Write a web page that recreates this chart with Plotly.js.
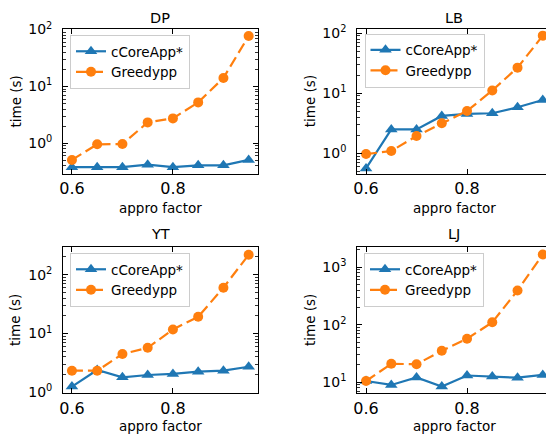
<!DOCTYPE html>
<html>
<head>
<meta charset="utf-8">
<script src="https://cdn.plot.ly/plotly-3.0.1.min.js"></script>
<style>html,body{margin:0;padding:0;background:#fff;overflow:hidden}</style>
</head>
<body>
<div id="chart" style="width:546px;height:439px"></div>
<script>
// ---- data ----
const factors = [0.6, 0.65, 0.7, 0.75, 0.8, 0.85, 0.9, 0.95];
const panelNames = ["DP", "LB", "YT", "LJ"];
const seriesNames = ["cCoreApp*", "Greedypp"];

const dpCore   = [0.38, 0.38, 0.38, 0.42, 0.38, 0.41, 0.41, 0.51];
const dpGreedy = [0.51, 0.96, 0.97, 2.33, 2.74, 5.24, 14.1, 77];

const lbCore   = [0.56, 2.5, 2.5, 4.19, 4.52, 4.64, 5.84, 7.7];
const lbGreedy = [0.97, 1.09, 1.94, 3.16, 5.07, 11.1, 26.7, 91];

const ytCore   = [1.25, 2.39, 1.80, 1.97, 2.05, 2.24, 2.33, 2.72];
const ytGreedy = [2.33, 2.33, 4.47, 5.71, 11.7, 19.2, 60, 218];

const ljCore   = [10.5, 8.98, 12.1, 8.4, 13.1, 12.6, 12.0, 13.4];
const ljGreedy = [10.5, 20.9, 20.6, 35.2, 57, 110, 392, 1660];

const xTickVals = [0.6, 0.8];
const xTickText = ["0.6", "0.8"];
const yTickVals = [0.1, 1, 10, 100, 1000, 10000];
const yTickText = ["10<sup>-1</sup>", "10<sup>0</sup>", "10<sup>1</sup>", "10<sup>2</sup>", "10<sup>3</sup>", "10<sup>4</sup>"];

// ---- layout helpers ----
const W = 546, H = 439;
const fx = p => p / W;
const fy = p => 1 - p / H;
const FONT = "DejaVu Sans, Verdana, sans-serif";
const BLUE = "#1f77b4", ORANGE = "#ff7f0e";

const minorVals = [];
for (let d = -2; d <= 4; d++) for (let k = 2; k <= 9; k++) minorVals.push(k * Math.pow(10, d));

const coreSets = [dpCore, lbCore, ytCore, ljCore];
const greedySets = [dpGreedy, lbGreedy, ytGreedy, ljGreedy];

const traces = [];
for (let i = 0; i < 4; i++) {
  const sfx = i === 0 ? "" : String(i + 1);
  const leg = "legend" + sfx;
  traces.push({
    x: factors, y: coreSets[i], name: seriesNames[0], type: "scatter", mode: "lines+markers",
    xaxis: "x" + sfx, yaxis: "y" + sfx, legend: leg, cliponaxis: false,
    line: {color: BLUE, width: 2.2},
    marker: {symbol: "triangle-up", size: 11, color: BLUE}
  });
  traces.push({
    x: factors, y: greedySets[i], name: seriesNames[1], type: "scatter", mode: "lines+markers",
    xaxis: "x" + sfx, yaxis: "y" + sfx, legend: leg, cliponaxis: false,
    line: {color: ORANGE, width: 2.2, dash: "11px,5px"},
    marker: {symbol: "circle", size: 10, color: ORANGE}
  });
}

const xDomL = [fx(63.1), fx(257.5)];
const xDomR = [fx(357.2), 1];
const yDomT = [fy(174), fy(29)];
const yDomB = [fy(393.3), fy(247)];

function xAxis(dom, rng, anchor) {
  return {
    domain: dom, range: rng, anchor: anchor, type: "linear",
    tickmode: "array", tickvals: xTickVals, ticktext: xTickText,
    ticks: "inside", ticklen: 5, tickwidth: 1, tickcolor: "#000",
    showline: true, linecolor: "#000", linewidth: 1, mirror: "ticks",
    showgrid: false, zeroline: false, ticklabelstandoff: 0,
    tickfont: {family: FONT, size: 16, color: "#000"}
  };
}
function yAxis(dom, rng, anchor, mirror) {
  return {
    domain: dom, range: rng, anchor: anchor, type: "log",
    tickmode: "array", tickvals: yTickVals, ticktext: yTickText,
    ticks: "inside", ticklen: 5, tickwidth: 1, tickcolor: "#000",
    minor: {tickmode: "array", tickvals: minorVals, ticks: "inside", ticklen: 2.5, tickwidth: 0.8, tickcolor: "#000", showgrid: false},
    showline: true, linecolor: "#000", linewidth: 1, mirror: mirror,
    showgrid: false, zeroline: false, ticklabelstandoff: 7,
    tickfont: {family: FONT, size: 14, color: "#000"}
  };
}

function legendAt(px, py) {
  return {
    x: fx(px), y: fy(py), xanchor: "left", yanchor: "top",
    bgcolor: "rgba(255,255,255,0.85)", bordercolor: "#cccccc", borderwidth: 1,
    font: {family: FONT, size: 13.5, color: "#000"}, tracegroupgap: 0, itemwidth: 30
  };
}

const annotations = [];
const titlePos = [[160.3, 17.5], [454.4, 17.5], [160.3, 234], [454.4, 234]];
const ylabPos = [[15, 101.5], [309.7, 101.5], [15, 320], [310, 320]];
const xlabPos = [[160.3, 208], [454.4, 208], [160.3, 426], [454.4, 426]];
for (let i = 0; i < 4; i++) {
  annotations.push({xref: "paper", yref: "paper", x: fx(titlePos[i][0]), y: fy(titlePos[i][1]),
    xanchor: "center", yanchor: "middle", showarrow: false, text: panelNames[i],
    font: {family: FONT, size: 14.5, color: "#000"}});
  annotations.push({xref: "paper", yref: "paper", x: fx(ylabPos[i][0]), y: fy(ylabPos[i][1]),
    xanchor: "center", yanchor: "middle", showarrow: false, text: "time (s)", textangle: -90,
    font: {family: FONT, size: 13.5, color: "#000"}});
  annotations.push({xref: "paper", yref: "paper", x: fx(xlabPos[i][0]), y: fy(xlabPos[i][1]),
    xanchor: "center", yanchor: "middle", showarrow: false, text: "appro factor",
    font: {family: FONT, size: 13.5, color: "#000"}});
}

const layout = {
  width: W, height: H, margin: {l: 0, r: 0, t: 0, b: 0},
  paper_bgcolor: "#fff", plot_bgcolor: "#fff",
  font: {family: FONT, color: "#000"},
  showlegend: true,
  xaxis:  xAxis(xDomL, [0.5825, 0.9675], "y"),
  yaxis:  yAxis(yDomT, [-0.54, 2.01], "x", "ticks"),
  xaxis2: xAxis(xDomR, [0.5825, 0.9564], "y2"),
  yaxis2: yAxis(yDomT, [-0.345, 2.07], "x2", false),
  xaxis3: xAxis(xDomL, [0.5825, 0.9675], "y3"),
  yaxis3: yAxis(yDomB, [-0.017, 2.47], "x3", "ticks"),
  xaxis4: xAxis(xDomR, [0.5825, 0.9564], "y4"),
  yaxis4: yAxis(yDomB, [0.808, 3.35], "x4", false),
  legend:  legendAt(70, 35),
  legend2: legendAt(364.5, 33.5),
  legend3: legendAt(70, 253),
  legend4: legendAt(364, 253),
  annotations: annotations
};

Plotly.newPlot("chart", traces, layout, {displayModeBar: false, staticPlot: true});
</script>
</body>
</html>
